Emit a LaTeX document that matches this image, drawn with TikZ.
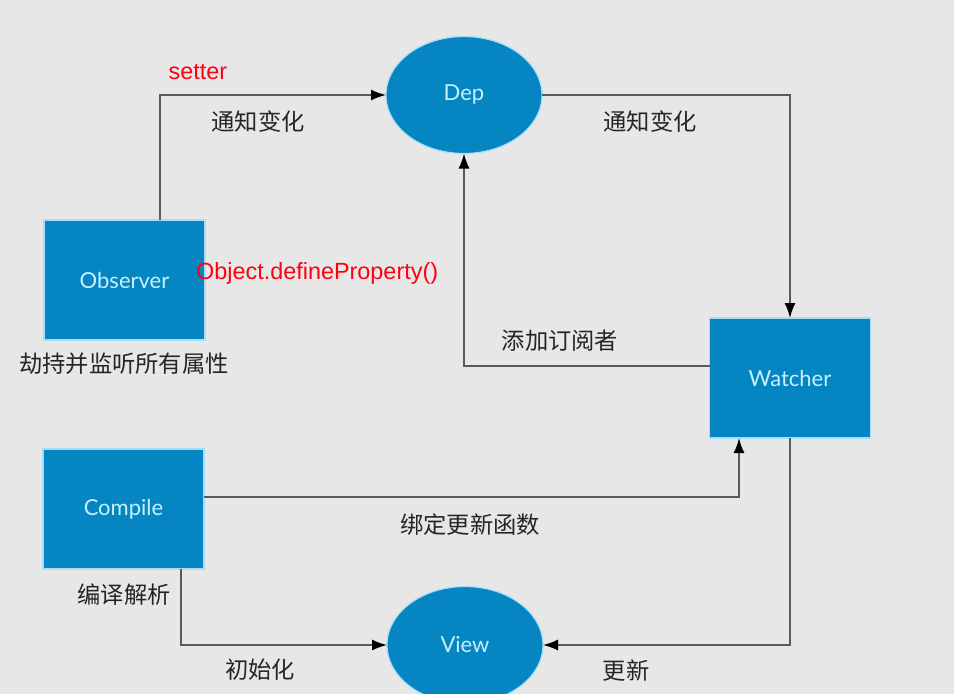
\documentclass[tikz,border=0pt]{standalone}
\usepackage{fontspec}
\setmainfont{Liberation Sans}
\newfontfamily\cjkfont{Noto Sans CJK SC}
\newfontfamily\nodefont{Lato}
\usetikzlibrary{shapes.geometric,arrows.meta}
\definecolor{bg}{HTML}{E7E7E8}
\definecolor{boxblue}{HTML}{0585C1}
\definecolor{glow}{HTML}{A9DDF6}
\definecolor{nodetext}{HTML}{C6F0FF}
\definecolor{linegray}{HTML}{5A5A5A}
\definecolor{labelred}{HTML}{FF0010}
\definecolor{labeltext}{HTML}{252525}
\tikzset{
  boxnode/.style={rectangle, fill=boxblue, draw=glow, line width=1.2pt, minimum width=161pt, minimum height=120pt, outer sep=0pt, inner sep=0pt, text=nodetext, font=\nodefont\fontsize{22}{25}\selectfont},
  ellnode/.style={ellipse, fill=boxblue, draw=glow, line width=1.2pt, minimum width=156pt, minimum height=117pt, outer sep=0pt, inner sep=0pt, text=nodetext, font=\nodefont\fontsize{22}{25}\selectfont},
  arr/.style={draw=linegray, line width=1.6pt, -{Latex[length=15pt,width=11pt,black]}},
  cn/.style={text=labeltext, font=\cjkfont\fontsize{23.3}{26}\selectfont, inner sep=0pt},
  rd/.style={text=labelred, font=\fontsize{23.4}{26}\selectfont, inner sep=0pt}
}
\begin{document}
\begin{tikzpicture}[x=1pt,y=-1pt]
\fill[bg] (0,0) rectangle (954,694);
\useasboundingbox (0,0) rectangle (954,694);
\begin{scope}
\clip (0,0) rectangle (954,694);
\node[ellnode] (dep) at (464,95) {Dep};
\node[ellnode] (view) at (465,645) {View};
\node[boxnode] (obs) at (124.5,280) {Observer};
\node[boxnode] (wat) at (790,378) {Watcher};
\node[boxnode] (cmp) at (123.5,509) {Compile};
\coordinate (o1) at (160,0);
\coordinate (c1) at (739,0);
\coordinate (c2) at (181,0);
\coordinate (w1) at (0,366);
\coordinate (c3) at (0,497);

\draw[arr] (obs.north -| o1) |- (dep.west);
\draw[arr] (dep.east) -| (wat.north);
\draw[arr] (wat.west |- w1) -| (dep.south);
\draw[arr] (cmp.east |- c3) -| (wat.south -| c1);
\draw[arr] (cmp.south -| c2) |- (view.west);
\draw[arr] (wat.south) |- (view.east);
\end{scope}

\node[rd] (setter) at (198,72) {setter};
\node[rd, anchor=west] (odp) at (196,273) {Object.defineProperty()};
\node[cn] (l1) at (258,122) {通知变化};
\node[cn] (l2) at (650,122) {通知变化};
\node[cn] (l3) at (124,364) {劫持并监听所有属性};
\node[cn] (l4) at (560,341) {添加订阅者};
\node[cn] (l5) at (470,525) {绑定更新函数};
\node[cn] (l6) at (124,595) {编译解析};
\node[cn] (l7) at (260,670) {初始化};
\node[cn] (l8) at (626,671) {更新};
\end{tikzpicture}
\end{document}
